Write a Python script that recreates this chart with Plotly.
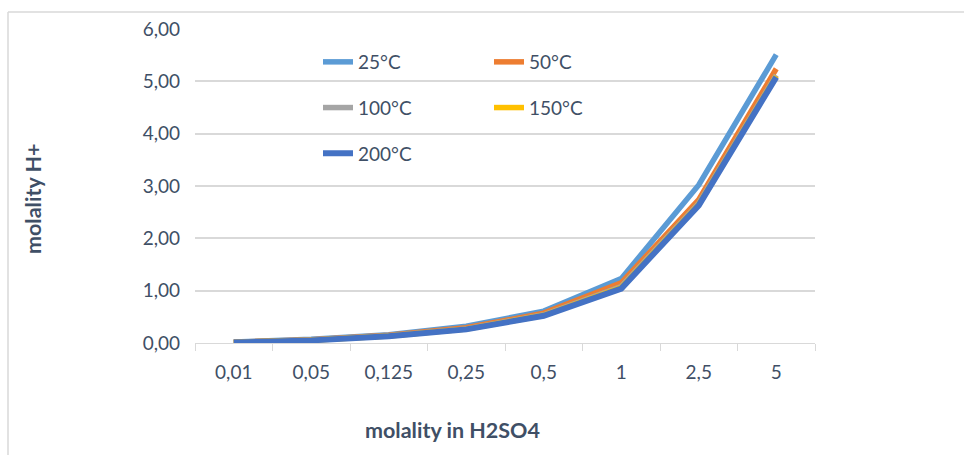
import plotly.graph_objects as go

categories = ["0,01", "0,05", "0,125", "0,25", "0,5", "1", "2,5", "5"]
h_25 = [0.02, 0.07, 0.16, 0.32, 0.61, 1.23, 3.02, 5.51]
h_50 = [0.015, 0.06, 0.15, 0.29, 0.57, 1.15, 2.74, 5.24]
h_100 = [0.012, 0.055, 0.14, 0.27, 0.54, 1.08, 2.67, 5.12]
h_150 = [0.011, 0.052, 0.135, 0.265, 0.53, 1.06, 2.65, 5.10]
h_200 = [0.01, 0.05, 0.13, 0.26, 0.52, 1.04, 2.63, 5.08]

series = [
    ("25°C", h_25, "#5B9BD5", "legend"),
    ("50°C", h_50, "#ED7D31", "legend2"),
    ("100°C", h_100, "#A5A5A5", "legend"),
    ("150°C", h_150, "#FFC000", "legend2"),
    ("200°C", h_200, "#4472C4", "legend"),
]

W, H = 964, 455
L, R, T, B = 195, 149, 29, 112
pw, ph = W - L - R, H - T - B

def px_x(p):
    return (p - L) / pw

def px_y(p):
    return 1 - (p - T) / ph

font_family = "Lato, 'Open Sans', sans-serif"
txt_color = "#3F4F66"
grid = "#D9D9D9"

fig = go.Figure()
for name, vals, color, lg in series:
    fig.add_trace(go.Scatter(
        x=categories, y=vals, name=name, mode="lines",
        line=dict(color=color, width=6 if name == "200°C" else 5.5),
        legend=lg, legendgroup=name,
    ))

legend_common = dict(
    orientation="v", xanchor="left", yanchor="top",
    bgcolor="rgba(0,0,0,0)", borderwidth=0,
    font=dict(family=font_family, size=19, color=txt_color),
    tracegroupgap=18,
)

fig.update_layout(
    width=W, height=H,
    margin=dict(l=L, r=R, t=T, b=B),
    paper_bgcolor="white", plot_bgcolor="white",
    separators=",.",
    font=dict(family=font_family, size=19, color=txt_color),
    legend=dict(x=px_x(318), y=px_y(43), **legend_common),
    legend2=dict(x=px_x(489), y=px_y(43), **legend_common),
    xaxis=dict(
        type="category", showgrid=False, showline=True, linecolor=grid, linewidth=1,
        ticks="outside", tickson="boundaries", ticklen=7, tickcolor=grid,
        tickfont=dict(size=19, color=txt_color), ticklabelstandoff=12,
        range=[-0.5, len(categories) - 0.5],
    ),
    yaxis=dict(
        range=[0, 6], dtick=1, tickformat=".2f", showgrid=True, gridcolor=grid,
        gridwidth=1.5, zeroline=False, showline=False, ticks="",
        tickfont=dict(size=19, color=txt_color), ticklabelstandoff=14,
    ),
    annotations=[
        dict(text="<b>molality in H2SO4</b>", xref="paper", yref="paper",
             x=px_x(452), y=px_y(430), xanchor="center", yanchor="middle",
             showarrow=False, font=dict(size=21.5, color=txt_color, family=font_family)),
        dict(text="<b>molality H+</b>", xref="paper", yref="paper",
             x=px_x(33), y=px_y(199), xanchor="center", yanchor="middle",
             textangle=-90, showarrow=False,
             font=dict(size=21.5, color=txt_color, family=font_family)),
    ],
    shapes=[
        dict(type="line", xref="paper", yref="paper", x0=px_x(8), x1=px_x(964),
             y0=px_y(12), y1=px_y(12), line=dict(color=grid, width=1.5)),
        dict(type="line", xref="paper", yref="paper", x0=px_x(8), x1=px_x(8),
             y0=px_y(12), y1=px_y(455), line=dict(color=grid, width=1.5)),
    ],
)

fig.write_html("out.html")
